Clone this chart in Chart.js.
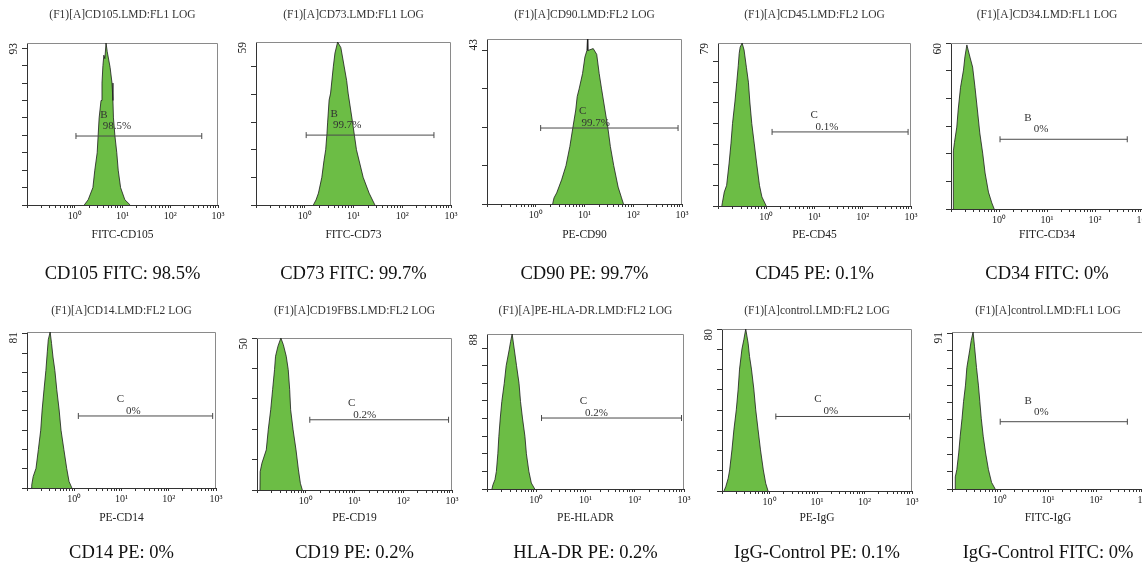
<!DOCTYPE html>
<html>
<head>
<meta charset="utf-8">
<script src="https://cdn.jsdelivr.net/npm/chart.js@4.4.1/dist/chart.umd.min.js"></script>
<style>
  html, body { margin: 0; padding: 0; background: #fff; overflow: hidden; }
  #page { position: relative; width: 1142px; height: 564px; overflow: hidden; }
  #page canvas { position: absolute; }
</style>
</head>
<body>
<div id="page"></div>
<script>
// panel texts
const panelTitles = [
    "(F1)[A]CD105.LMD:FL1 LOG", "(F1)[A]CD73.LMD:FL1 LOG", "(F1)[A]CD90.LMD:FL2 LOG",
    "(F1)[A]CD45.LMD:FL2 LOG", "(F1)[A]CD34.LMD:FL1 LOG", "(F1)[A]CD14.LMD:FL2 LOG",
    "(F1)[A]CD19FBS.LMD:FL2 LOG", "(F1)[A]PE-HLA-DR.LMD:FL2 LOG",
    "(F1)[A]control.LMD:FL2 LOG", "(F1)[A]control.LMD:FL1 LOG"
];
const axisLabels = ["FITC-CD105", "FITC-CD73", "PE-CD90", "PE-CD45", "FITC-CD34",
    "PE-CD14", "PE-CD19", "PE-HLADR", "PE-IgG", "FITC-IgG"];
const captions = ["CD105 FITC: 98.5%", "CD73 FITC: 99.7%", "CD90 PE: 99.7%", "CD45 PE: 0.1%",
    "CD34 FITC: 0%", "CD14 PE: 0%", "CD19 PE: 0.2%", "HLA-DR PE: 0.2%",
    "IgG-Control PE: 0.1%", "IgG-Control FITC: 0%"];

// axes
const yMaxima = [93, 59, 43, 79, 60, 81, 50, 88, 80, 91];
const decadeTicks = [1, 10, 100, 1000];
const decadeLabels = ["10\u2070", "10\u00b9", "10\u00b2", "10\u00b3"];

// gates
const gateNames = ["B", "B", "C", "C", "B", "C", "C", "C", "C", "B"];
const gatePercents = ["98.5%", "99.7%", "99.7%", "0.1%", "0%", "0%", "0.2%", "0.2%", "0%", "0%"];
const gateStarts = [1.06, 1.07, 1.26, 1.32, 1.05, 1.22, 1.21, 1.28, 1.36, 1.01];
const gateEnds = [457, 447, 830, 870, 470, 850, 850, 890, 890, 450];
const gateLevels = [39.6, 25.3, 19.8, 35.9, 25.2, 37.4, 23.1, 40.3, 36.8, 39.0];

// histograms (fluorescence, count)
const cd105Fl = [1.58, 1.91, 2.40, 2.63, 2.95, 3.09, 3.24, 3.55, 3.72, 3.89, 4.07, 4.27, 4.52, 4.79, 5.50, 6.03, 6.31, 6.46, 6.92, 7.59, 8.13, 9.12, 11.2, 14.5];
const cd105Count = [0, 3, 10, 20, 30, 40, 50, 60, 70, 80, 86, 84, 93, 88, 79, 70, 60, 50, 40, 30, 20, 10, 3, 0];
const cd73Fl = [1.50, 1.70, 1.91, 2.24, 2.48, 2.69, 2.86, 2.95, 3.16, 3.39, 3.85, 4.17, 4.73, 5.50, 6.46, 7.24, 7.76, 9.55, 11.5, 15.8, 20.9, 27.5];
const cd73Count = [0, 1.8, 4.3, 10, 16, 20, 26, 30, 38, 40.5, 50, 55, 59, 57, 50, 45, 40.5, 30, 20, 10, 4.3, 0];
const cd90Fl = [2.22, 2.37, 2.69, 3.39, 4.17, 5.01, 5.75, 6.61, 7.08, 7.76, 9.12, 10.2, 11.2, 11.5, 11.7, 15.1, 17.8, 20.0, 22.4, 26.3, 30.2, 33.9, 39.8, 49.0, 57.5, 63.1];
const cd90Count = [0, 1.6, 2.9, 6.3, 10, 15, 19.8, 24.5, 28, 30, 34, 38.3, 40, 43, 40, 40.5, 39, 34, 30, 24.5, 19.8, 15, 10, 4.4, 1.6, 0];
const cd45Fl = [0.120, 0.123, 0.135, 0.151, 0.170, 0.186, 0.200, 0.224, 0.245, 0.263, 0.275, 0.288, 0.316, 0.347, 0.389, 0.427, 0.457, 0.501, 0.562, 0.631, 0.724, 0.813, 1.0];
const cd45Count = [0, 1.5, 6.8, 10, 20.8, 30.5, 40, 50.4, 60, 68, 74, 77, 79, 75.6, 67, 60, 50.4, 40, 30.5, 20.8, 10, 4.4, 0];
const cd34Fl = [0.111, 0.112, 0.118, 0.132, 0.141, 0.158, 0.182, 0.195, 0.214, 0.251, 0.282, 0.316, 0.355, 0.398, 0.457, 0.513, 0.603, 0.708, 0.794];
const cd34Count = [0, 21, 24, 29.6, 35.8, 44, 50.2, 55, 59.3, 54.6, 51.3, 44, 35.8, 27.5, 20.2, 13, 6.1, 2.2, 0];
const cd14Fl = [0.122, 0.126, 0.135, 0.155, 0.174, 0.195, 0.209, 0.229, 0.251, 0.269, 0.282, 0.309, 0.331, 0.355, 0.389, 0.427, 0.479, 0.525, 0.603, 0.692, 0.776, 0.891];
const cd14Count = [0, 1.6, 5.9, 10.2, 20, 30, 40.5, 51, 61, 70.7, 77, 81, 75, 68, 61, 51, 40.5, 30, 20, 10.2, 3.4, 0];
const cd19Fl = [0.115, 0.116, 0.126, 0.155, 0.170, 0.191, 0.209, 0.229, 0.240, 0.269, 0.309, 0.347, 0.398, 0.437, 0.468, 0.490, 0.550, 0.631, 0.708, 0.776, 0.851];
const cd19Count = [0, 6, 8.8, 13.2, 19.8, 26.4, 33, 39.6, 44, 47.3, 50, 47.8, 44, 39.6, 33, 26.4, 19.8, 13.2, 6.6, 2.2, 0];
const hlaFl = [0.126, 0.132, 0.145, 0.155, 0.166, 0.174, 0.186, 0.200, 0.224, 0.245, 0.282, 0.302, 0.324, 0.355, 0.398, 0.447, 0.479, 0.525, 0.589, 0.631, 0.708, 0.794, 0.933];
const hlaCount = [0, 2.4, 5.3, 10, 20, 29.9, 40.3, 49.7, 60, 70, 79, 83.8, 88, 80, 70, 60, 49.7, 40.3, 29.9, 20, 10, 3.4, 0];
const igPeFl = [0.110, 0.120, 0.135, 0.145, 0.162, 0.178, 0.200, 0.219, 0.234, 0.263, 0.288, 0.316, 0.355, 0.380, 0.417, 0.468, 0.513, 0.575, 0.646, 0.741, 0.832, 0.933];
const igPeCount = [0, 2.1, 6.3, 10.4, 20.3, 30.2, 40.1, 50.3, 60.2, 70.1, 74.7, 80, 73, 66.4, 60.2, 50.3, 40.1, 30.2, 20.3, 10.4, 3.8, 0];
const igFitcFl = [0.116, 0.117, 0.126, 0.138, 0.148, 0.162, 0.174, 0.191, 0.204, 0.234, 0.251, 0.275, 0.295, 0.324, 0.355, 0.380, 0.407, 0.447, 0.501, 0.575, 0.668, 0.794];
const igFitcCount = [0, 7, 11.2, 20.9, 30.6, 41, 50.6, 60.2, 70.4, 80.5, 86, 91, 82.4, 70.4, 60.2, 50.6, 41, 30.6, 20.9, 11.2, 3.8, 0];

const histograms = [
    [cd105Fl, cd105Count], [cd73Fl, cd73Count], [cd90Fl, cd90Count], [cd45Fl, cd45Count],
    [cd34Fl, cd34Count], [cd14Fl, cd14Count], [cd19Fl, cd19Count], [hlaFl, hlaCount],
    [igPeFl, igPeCount], [igFitcFl, igFitcCount]
];

// layout of the plot boxes on the page
const rows = [
    { top: 0, height: 290, title: 15, axis: 235, caption: 274 },
    { top: 290, height: 274, title: 311, axis: 518, caption: 553 }
];
const frames = [
    { left: 27, top: 43, right: 218, bottom: 205, row: 0 },
    { left: 256, top: 42, right: 451, bottom: 205, row: 0 },
    { left: 487, top: 39, right: 682, bottom: 204, row: 0 },
    { left: 718, top: 43, right: 911, bottom: 206, row: 0 },
    { left: 951, top: 43, right: 1143, bottom: 209, row: 0 },
    { left: 27, top: 332, right: 216, bottom: 488, row: 1 },
    { left: 257, top: 338, right: 452, bottom: 490, row: 1 },
    { left: 487, top: 334, right: 684, bottom: 489, row: 1 },
    { left: 722, top: 329, right: 912, bottom: 491, row: 1 },
    { left: 952, top: 332, right: 1144, bottom: 489, row: 1 }
];

Chart.defaults.font.family = "'Liberation Serif', 'Times New Roman', serif";
Chart.defaults.color = "#222";

const SERIF = "'Liberation Serif', 'Times New Roman', serif";
const TITLE_SIZE = 11.5, CAPTION_SIZE = 18.5, LH = 1.2;
const AXIS_W = 40, AXIS_H = 40;

// top + right edge of the plot box
const framePlugin = {
    id: "frame",
    beforeDatasetsDraw(chart) {
        const { ctx, chartArea: a } = chart;
        ctx.save();
        ctx.strokeStyle = "#8a8a8a";
        ctx.lineWidth = 1;
        ctx.beginPath();
        ctx.moveTo(a.left, a.top + 0.5);
        ctx.lineTo(a.right - 0.5, a.top + 0.5);
        ctx.lineTo(a.right - 0.5, a.bottom);
        ctx.stroke();
        ctx.restore();
    }
};

// gate letter and percentage above the gate line
const gateTextPlugin = {
    id: "gateText",
    afterDatasetsDraw(chart, args, o) {
        const pts = chart.getDatasetMeta(0).data;
        if (!pts.length) return;
        const ctx = chart.ctx;
        const x0 = pts[0].x, y0 = pts[0].y;
        ctx.save();
        ctx.fillStyle = "#333";
        ctx.font = "11px " + SERIF;
        ctx.textAlign = "center";
        ctx.textBaseline = "middle";
        ctx.fillText(o.letter, x0 + o.dx, y0 + o.letterDy);
        ctx.fillText(o.percent, x0 + o.dx + 13, y0 + o.percentDy);
        ctx.restore();
    }
};

const page = document.getElementById("page");

frames.forEach((f, i) => {
    const r = rows[f.row];
    const w = f.right - f.left + 2 * AXIS_W;
    const h = r.height + 20;

    const canvas = document.createElement("canvas");
    canvas.width = w;
    canvas.height = h;
    canvas.style.left = (f.left - AXIS_W) + "px";
    canvas.style.top = r.top + "px";
    canvas.style.width = w + "px";
    canvas.style.height = h + "px";
    page.appendChild(canvas);

    const tLine = TITLE_SIZE * LH, cLine = CAPTION_SIZE * LH;
    const titleTop = r.title - r.top - tLine / 2;
    const titleBottom = f.top - r.top - titleTop - tLine;
    const axisBottom = f.bottom + AXIS_H;
    const axisPad = axisBottom - r.axis - tLine / 2;
    const capTop = r.caption - axisBottom - cLine / 2;
    const capBottom = (r.top + h) - axisBottom - capTop - cLine;

    const isB = gateNames[i] === "B";
    const [fl, count] = histograms[i];

    new Chart(canvas, {
        type: "line",
        data: {
            datasets: [
                {
                    data: [{ x: gateStarts[i], y: gateLevels[i] }, { x: gateEnds[i], y: gateLevels[i] }],
                    borderColor: "#4a4a4a",
                    borderWidth: 1,
                    pointStyle: "line",
                    pointRotation: 90,
                    pointRadius: 3,
                    pointBorderColor: "#4a4a4a",
                    pointBorderWidth: 1,
                    fill: false
                },
                {
                    data: fl.map((x, j) => ({ x: x, y: count[j] })),
                    borderColor: "#1c1c1c",
                    borderWidth: 0.8,
                    backgroundColor: "#6cbd45",
                    fill: "origin",
                    pointRadius: 0,
                    tension: 0
                }
            ]
        },
        options: {
            responsive: false,
            animation: false,
            devicePixelRatio: 1,
            layout: { padding: { left: 0, right: AXIS_W, top: 0, bottom: 0 } },
            plugins: {
                legend: { display: false },
                tooltip: { enabled: false },
                title: {
                    display: true,
                    text: panelTitles[i],
                    fullSize: false,
                    color: "#333",
                    font: { size: TITLE_SIZE, weight: "normal", lineHeight: LH },
                    padding: { top: titleTop, bottom: titleBottom }
                },
                subtitle: {
                    display: true,
                    position: "bottom",
                    text: captions[i],
                    fullSize: false,
                    color: "#111",
                    font: { size: CAPTION_SIZE, lineHeight: LH },
                    padding: { top: capTop, bottom: capBottom }
                },
                gateText: {
                    letter: gateNames[i],
                    percent: gatePercents[i],
                    dx: isB ? 28 : 42,
                    letterDy: isB ? -21 : -17,
                    percentDy: isB ? -10 : -5
                }
            },
            scales: {
                x: {
                    type: "logarithmic",
                    min: 0.1,
                    max: 1000,
                    afterBuildTicks: s => {
                        const t = [];
                        [-1, 0, 1, 2].forEach(e => {
                            for (let k = 1; k < 10; k++) t.push({ value: +(k * Math.pow(10, e)).toPrecision(3) });
                        });
                        t.push({ value: 1000 });
                        s.ticks = t;
                    },
                    afterFit: s => { s.height = AXIS_H; },
                    border: { display: true, color: "#333", width: 1 },
                    grid: { drawOnChartArea: false, drawTicks: true, tickLength: 3, color: "#333" },
                    ticks: {
                        autoSkip: false,
                        maxRotation: 0,
                        padding: 2,
                        font: { size: 10 },
                        color: "#222",
                        callback: v => {
                            const j = decadeTicks.indexOf(v);
                            return j < 0 ? "" : decadeLabels[j];
                        }
                    },
                    title: {
                        display: true,
                        text: axisLabels[i],
                        color: "#222",
                        font: { size: TITLE_SIZE, lineHeight: LH },
                        padding: { top: 0, bottom: axisPad }
                    }
                },
                y: {
                    min: 0,
                    max: yMaxima[i],
                    afterBuildTicks: s => {
                        const t = [];
                        for (let v = 0; v <= yMaxima[i]; v += 10) t.push({ value: v });
                        s.ticks = t;
                    },
                    afterFit: s => { s.width = AXIS_W; },
                    border: { display: true, color: "#333", width: 1 },
                    grid: { drawOnChartArea: false, drawTicks: true, tickLength: 5, color: "#333" },
                    ticks: { display: false },
                    title: {
                        display: true,
                        text: String(yMaxima[i]),
                        align: "end",
                        color: "#222",
                        font: { size: TITLE_SIZE, lineHeight: LH },
                        padding: { top: AXIS_W - 13 - tLine / 2, bottom: 0 }
                    }
                }
            }
        },
        plugins: [framePlugin, gateTextPlugin]
    });
});
</script>
</body>
</html>
